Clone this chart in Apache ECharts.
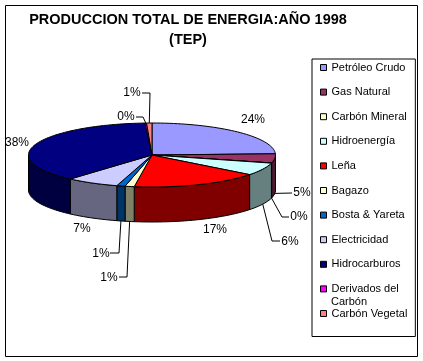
<!DOCTYPE html>
<html><head><meta charset="utf-8">
<style>html,body{margin:0;padding:0;background:#fff}#c{width:423px;height:361px}</style>
<script src="https://cdn.jsdelivr.net/npm/echarts@6/dist/echarts.min.js"></script>
</head><body><div id="c"></div>
<script>
const categories = ['Petróleo Crudo','Gas Natural','Carbón Mineral','Hidroenergía','Leña','Bagazo','Bosta & Yareta','Electricidad','Hidrocarburos','Derivados del Carbón','Carbón Vegetal'];
const values = [24.4,4.6,0.1,6.4,16.8,1.2,1.1,6.9,37.6,0.2,0.7];
const colors = ['#9999FF','#993366','#FFFFCC','#CCFFFF','#FF0000','#FFFFCC','#0066CC','#CCCCFF','#000080','#FF00FF','#FF8080'];
const sideColors = ['#4D4D80','#4D1A33','#808066','#668080','#800000','#808066','#003366','#666680','#000040','#800080','#804040'];
// label centre, then optional leader-line bend and end
const labelLayout = [
  {at:[253,120]},
  {at:[302,193], leader:[[292,193]]},
  {at:[299,217], leader:[[282,217],[289,217]]},
  {at:[290,242], leader:[[272,241],[280,241]]},
  {at:[215,230]},
  {at:[109,278], leader:[[127,277],[119,277]]},
  {at:[101,254], leader:[[119,253],[110,253]]},
  {at:[82,229]},
  {at:[17,143]},
  {at:[126,117], leader:[[143,117],[136,117]]},
  {at:[132,93], leader:[[150,93],[142,93]]}
];
const pie = {cx:152, cy:155, rx:123.5, ry:32, depth:35};
const total = values.reduce((a,b)=>a+b,0);
const rim = (deg,dy)=>{const t=deg*Math.PI/180;return [pie.cx+pie.rx*Math.sin(t),pie.cy-pie.ry*Math.cos(t)+(dy||0)];};
const arc = (a,b,dy)=>{const n=Math.max(2,Math.ceil((b-a)/2)),p=[];for(let i=0;i<=n;i++)p.push(rim(a+(b-a)*i/n,dy));return p;};
function slice(i,val){
  const before=values.slice(0,i).reduce((a,b)=>a+b,0);
  const a=before/total*360,b=a+val/total*360,mid=(a+b)/2;
  const kids=[];
  const sa=Math.max(a,90),sb=Math.min(b,270);
  if(sb>sa){
    kids.push({type:'polygon',z2:1,shape:{points:arc(sa,sb,0).concat(arc(sa,sb,pie.depth).reverse())},
      style:{fill:sideColors[i],stroke:'#000',lineWidth:1}});
  }
  kids.push({type:'polygon',z2:2,shape:{points:[[pie.cx,pie.cy]].concat(arc(a,b,0))},
    style:{fill:colors[i],stroke:'#000',lineWidth:1}});
  const l=labelLayout[i];
  if(l.leader){
    const start=rim(mid,Math.cos(mid*Math.PI/180)<0?pie.depth:0);
    kids.push({type:'polyline',z2:3,shape:{points:[start].concat(l.leader)},style:{fill:null,stroke:'#000',lineWidth:1}});
  }
  kids.push({type:'text',z2:4,x:l.at[0],y:l.at[1],style:{text:Math.round(val)+'%',fill:'#000',font:'12px "Liberation Sans"',align:'center',verticalAlign:'middle'}});
  return {type:'group',children:kids};
}
const chart=echarts.init(document.getElementById('c'),null,{renderer:'canvas'});
chart.setOption({
  animation:false,
  backgroundColor:'#fff',
  title:{text:'PRODUCCION TOTAL DE ENERGIA:AÑO 1998\n(TEP)',left:188,top:10,textAlign:'center',padding:0,
    textStyle:{fontFamily:'"Liberation Sans"',fontWeight:'bold',fontSize:14.5,lineHeight:20,color:'#000'}},
  legend:{orient:'vertical',left:312,top:59,padding:[3,8,17.5,8],itemGap:13.6,itemWidth:6,itemHeight:6,icon:'rect',
    borderColor:'#000',borderWidth:1,backgroundColor:'#fff',
    itemStyle:{borderColor:'#000',borderWidth:1},
    textStyle:{fontFamily:'"Liberation Sans"',fontSize:11,color:'#000'},
    formatter:n=>n==='Derivados del Carbón'?'Derivados del':n,
    data:categories},
  graphic:[
    {type:'rect',z:-1,shape:{x:5.5,y:5.5,width:412,height:351},style:{fill:'#fff',stroke:'#000',lineWidth:1}},
    {type:'text',z:10,left:331,top:296,style:{text:'Carbón',fill:'#000',font:'11px "Liberation Sans"'}}
  ],
  series:categories.map((name,i)=>({
    type:'custom',name,coordinateSystem:'none',
    itemStyle:{color:colors[i]},
    data:[[values[i]]],
    renderItem:(p,api)=>slice(i,api.value(0))
  }))
});
</script></body></html>
